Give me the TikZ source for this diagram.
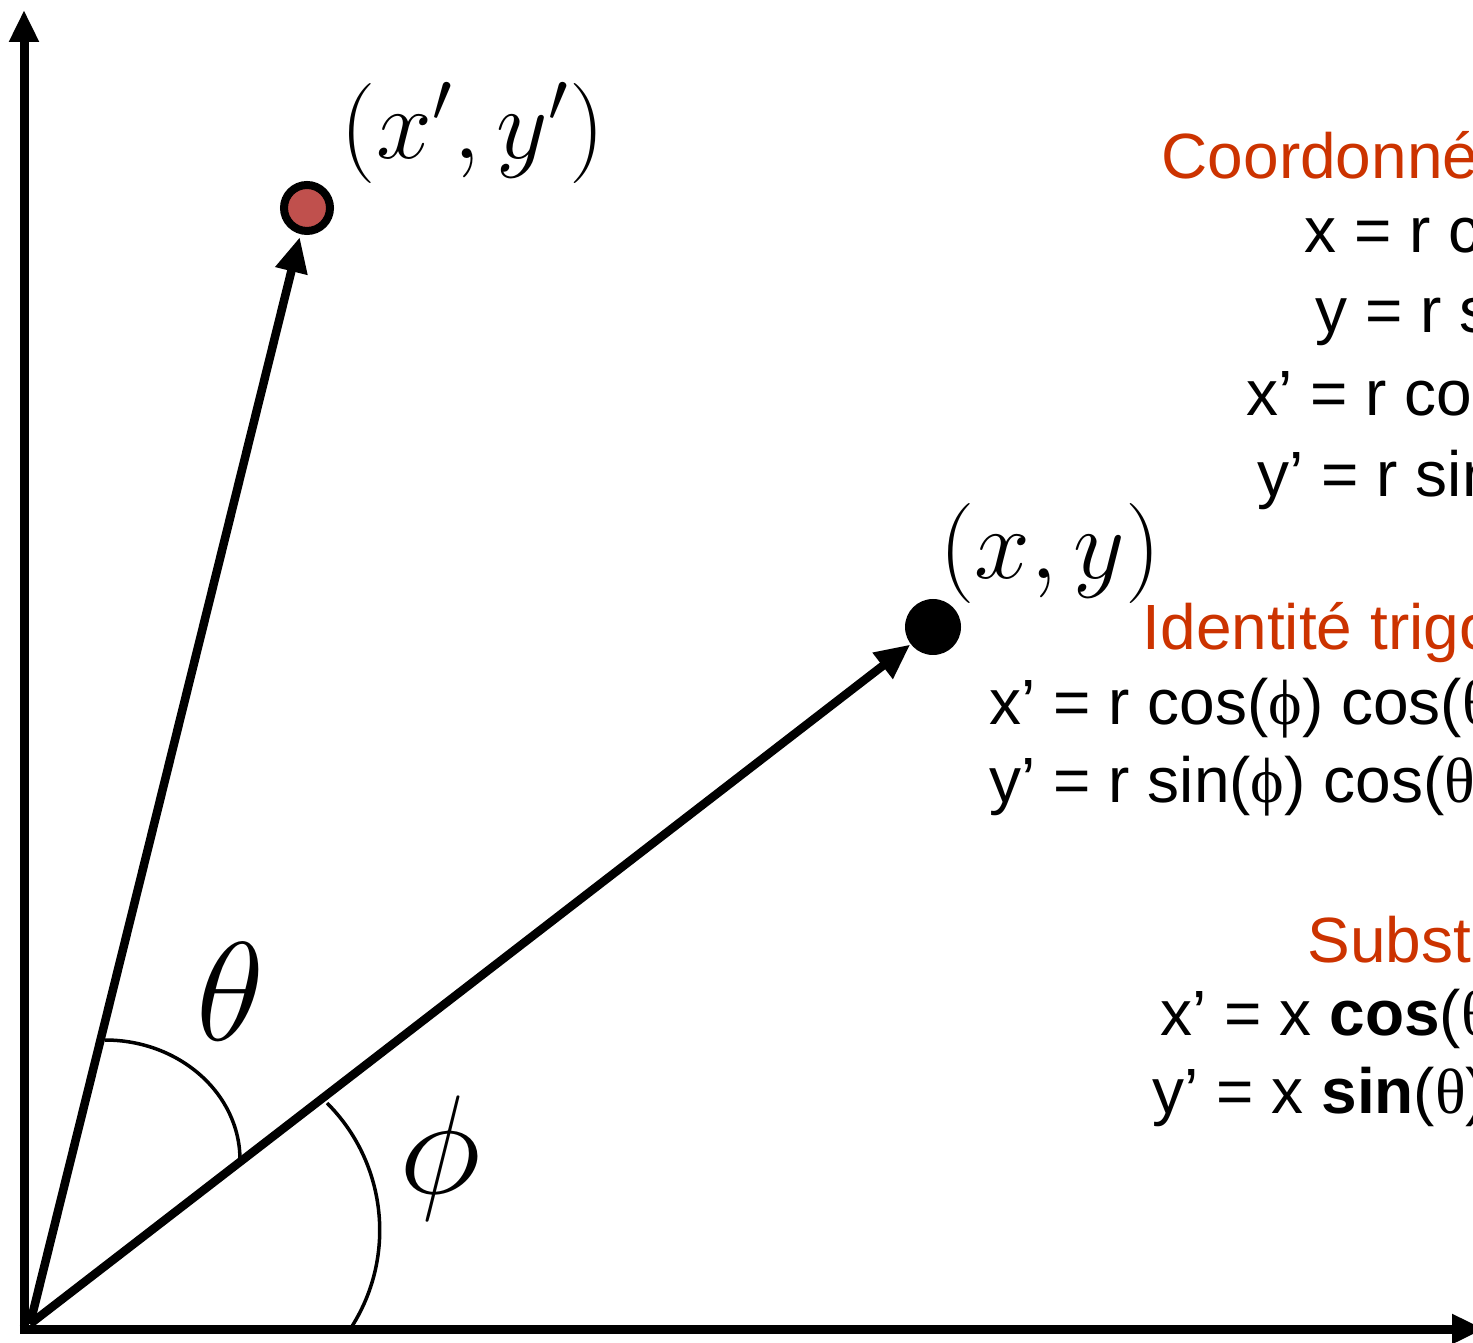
\RequirePackage{fix-cm}
\documentclass[tikz,border=0pt]{standalone}
\usepackage[no-math]{fontspec}
\setmainfont{Liberation Sans}
\newfontfamily\grk{Liberation Serif}
\usetikzlibrary{arrows.meta,positioning}
\definecolor{titlered}{RGB}{204,51,0}
\definecolor{dotred}{RGB}{192,80,77}
\tikzset{
    axis/.style={line width=0.09cm, -{Triangle[length=3.2mm,width=2.8mm]}},
    vec/.style={line width=0.085cm, -{Triangle[length=3.5mm,width=3.1mm]}},
    anglearc/.style={line width=0.035cm},
    eqn/.style={anchor=base west, inner sep=0pt, font=\fontsize{18.2}{22}\selectfont},
    eqtitle/.style={eqn, text=titlered},
    ptlabel/.style={font=\fontsize{28.5}{34}\selectfont},
    anglabel/.style={font=\fontsize{40}{48}\selectfont}
}
\begin{document}
\begin{tikzpicture}
    \useasboundingbox (0,0) rectangle (14.73,13.42);
    \clip (0,0) rectangle (14.73,13.42);

    \draw[axis] (0.24,0.085) -- (0.24,13.32);
    \draw[axis] (0.195,0.13) -- (14.84,0.13);

    \coordinate (O) at (0.30,0.18);
    \node[circle, fill=black, minimum size=0.56cm, inner sep=0pt] (pxy) at (9.33,7.15) {};
    \node[circle, draw, line width=0.08cm, fill=dotred, minimum size=0.46cm, inner sep=0pt] (pxyp) at (3.07,11.34) {};

    \draw[vec, shorten >=0.03cm] (O) -- (pxyp);
    \draw[vec] (O) -- (pxy);

    \node[ptlabel] (lxyp) at (4.73,12.09) {$(x',y')$};
    \node[ptlabel] (lxy) at (10.50,7.89) {$(x,y)$};

    \draw[anglearc] (1.05,3.02) arc[start angle=90, end angle=0, x radius=1.35, y radius=1.2];
    \draw[anglearc] (3.27,2.39) arc[start angle=45, end angle=-32, radius=1.8];
    \node[anglabel] (ltheta) at (2.30,3.50) {$\theta$};
    \node[anglabel] (lphi) at (4.40,1.84) {$\phi$};

    \node[eqtitle] (coordtitle) at (11.61,11.63) {Coordonné};
    \node[eqn] (eqx) at (13.04,10.89) {x = r c};
    \node[eqn] (eqy) at (13.15,10.09) {y = r s};
    \node[eqn] (eqxp) at (12.46,9.26) {x’ = r cos};
    \node[eqn] (eqyp) at (12.57,8.45) {y’ = r sin};

    \node[eqtitle] (idtitle) at (11.42,6.92) {Identité trigo};
    \node[eqn] (idxp) at (9.89,6.17) {x’ = r cos({\grk ϕ}) cos({\grk θ}};
    \node[eqn] (idyp) at (9.89,5.40) {y’ = r sin({\grk ϕ}) cos({\grk θ}};

    \node[eqtitle] (subtitle) at (13.07,3.80) {Substi};
    \node[eqn] (subxp) at (11.60,3.07) {x’ = x \textbf{cos}({\grk θ}};
    \node[eqn] (subyp) at (11.52,2.29) {y’ = x \textbf{sin}({\grk θ})};
\end{tikzpicture}
\end{document}
